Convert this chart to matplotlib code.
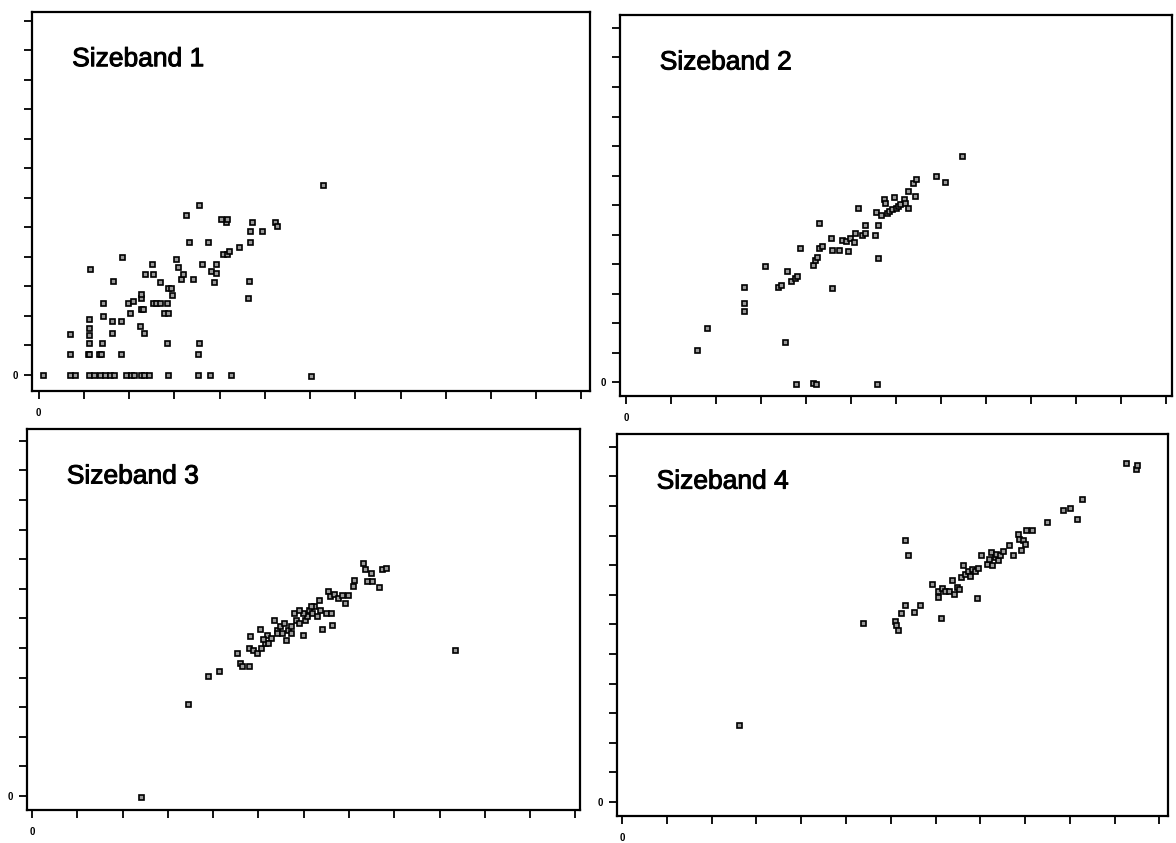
import matplotlib.pyplot as plt
import matplotlib.patheffects as pe

# --- DATA: one array per axis for each size band (axis units = tick steps) ---
x_band1 = [0.10, 0.69, 0.80, 1.12, 1.23, 1.35, 1.46, 1.58, 1.67, 1.92, 2.03, 2.11, 2.25, 2.33, 2.43,
           2.86, 3.53, 3.79, 4.25, 6.03,
           0.69, 1.08, 1.12, 1.33, 1.37, 1.82, 3.53,
           1.12, 1.40, 2.84, 3.55,
           0.69, 1.63, 2.24, 2.33, 1.12, 1.12, 1.12,
           1.63, 1.82, 1.42, 2.01, 2.77, 2.86, 2.25, 2.30,
           1.42, 1.97, 2.09, 2.25, 2.52, 2.60, 2.69, 2.84,
           2.25, 2.94, 2.86, 2.92, 2.69, 1.64,
           4.62, 4.65, 3.87, 3.41, 3.15,
           2.35, 2.53, 3.20, 3.81, 3.92,
           3.07, 2.50, 3.62, 3.92, 3.03, 1.84, 1.14,
           4.07, 4.17, 4.21, 4.42,
           3.32, 3.75, 4.68, 4.68, 4.93,
           4.13, 4.72, 5.23, 5.27, 4.04, 4.17,
           3.26, 3.55, 6.29]
y_band1 = [0.00, 0.00, 0.00, 0.00, 0.00, 0.00, 0.00, 0.00, 0.00, 0.00, 0.00, 0.00, 0.00, 0.00, 0.00,
           0.00, 0.00, 0.00, 0.00, -0.05,
           0.70, 0.70, 0.70, 0.70, 0.70, 0.70, 0.70,
           1.08, 1.08, 1.08, 1.08,
           1.39, 1.42, 1.65, 1.42, 1.36, 1.60, 1.90,
           1.84, 1.84, 1.99, 2.10, 2.10, 2.10, 2.22, 2.22,
           2.44, 2.44, 2.50, 2.60, 2.44, 2.44, 2.44, 2.44,
           2.73, 2.69, 2.95, 2.95, 3.13, 3.18,
           2.61, 3.18, 3.13, 3.24, 3.24,
           3.41, 3.41, 3.41, 3.52, 3.45,
           3.64, 3.75, 3.75, 3.75, 3.92, 4.00, 3.58,
           4.09, 4.09, 4.20, 4.32,
           4.49, 4.49, 4.49, 4.89, 4.89,
           5.17, 5.17, 5.17, 5.06, 5.28, 5.28,
           5.43, 5.74, 6.42]

x_band2 = [1.59, 1.81, 2.63, 2.63, 2.63, 3.10, 3.37, 3.44, 3.54, 3.58, 3.67, 3.75, 3.81, 3.86,
           3.77, 4.15, 4.22, 5.58, 4.16, 4.20, 4.24, 4.29, 4.35, 4.29, 4.56, 4.58, 4.58, 4.73,
           4.81, 4.90, 4.94, 4.98, 5.07, 5.08, 5.15, 5.24, 5.31, 5.32, 5.53, 5.59, 5.59, 5.56,
           5.66, 5.73, 5.76, 5.79, 5.85, 5.92, 5.96, 6.00, 6.04, 6.08, 6.17, 6.21, 6.27, 6.27,
           6.42, 6.38, 6.44, 6.89, 7.08, 7.47]
y_band2 = [1.08, 1.82, 3.22, 2.67, 2.42, 3.92, 3.24, 3.30, 1.36, 3.75, 3.41, 3.52, 3.60, 4.55,
           -0.06, -0.03, -0.06, -0.06, 3.98, 4.15, 4.24, 4.55, 4.60, 5.38, 4.89, 4.49, 3.18, 4.49,
           4.83, 4.77, 4.43, 4.89, 4.74, 5.06, 5.91, 5.00, 5.06, 5.32, 5.00, 5.32, 4.20, 5.76,
           5.68, 6.19, 6.08, 5.74, 5.80, 5.85, 6.28, 5.91, 5.97, 6.02, 6.22, 6.08, 6.48, 5.91,
           6.31, 6.76, 6.88, 6.99, 6.78, 7.65]

x_band3 = [2.40, 3.44, 3.88, 4.14, 4.52, 4.59, 4.63, 4.80, 4.80, 4.88, 4.82, 5.03, 4.97, 5.05,
           5.14, 5.18, 5.27, 5.35, 5.40, 5.48, 5.57, 5.61, 5.65, 5.73, 5.78, 5.82, 5.89, 5.99,
           6.03, 6.07, 6.12, 6.18, 6.23, 6.29, 6.33, 6.37, 6.41, 6.50, 6.54, 6.60, 6.63, 6.58,
           6.67, 6.75, 6.84, 6.91, 6.97, 7.09, 7.11, 7.31, 7.35, 7.39, 7.48, 7.50, 7.67, 7.73,
           7.82, 9.35, 5.22, 5.40, 5.52, 5.73, 5.99, 6.16, 5.10, 5.90]
y_band3 = [-0.02, 3.12, 4.06, 4.21, 4.83, 4.49, 4.38, 4.38, 5.00, 4.94, 5.42, 5.64, 4.83, 5.00,
           5.17, 5.45, 5.34, 5.94, 5.62, 5.73, 5.85, 5.28, 5.62, 5.73, 6.19, 5.96, 5.85, 5.45,
           5.96, 6.07, 6.30, 6.19, 6.41, 6.07, 6.64, 6.30, 5.64, 6.19, 6.92, 6.19, 5.79, 6.75,
           6.84, 6.69, 6.80, 6.52, 6.80, 7.09, 7.31, 7.88, 7.67, 7.26, 7.54, 7.26, 7.07, 7.67,
           7.71, 4.94, 5.17, 5.51, 5.51, 5.51, 6.19, 6.41, 5.30, 6.30]

x_band4 = [2.61, 5.39, 6.09, 6.11, 6.17, 6.23, 6.31, 6.31, 6.38, 6.52, 6.65, 6.93, 7.05, 7.05,
           7.13, 7.15, 7.22, 7.30, 7.37, 7.41, 7.47, 7.52, 7.57, 7.62, 7.66, 7.73, 7.77, 7.81,
           7.89, 7.94, 7.92, 8.02, 8.15, 8.19, 8.23, 8.27, 8.32, 8.36, 8.40, 8.44, 8.50, 8.65,
           8.72, 8.84, 8.86, 8.90, 8.95, 8.99, 9.03, 9.16, 9.48, 9.85, 10.00, 10.15, 10.27,
           11.26, 11.47, 11.50]
y_band4 = [2.60, 6.05, 6.13, 5.99, 5.81, 6.38, 6.67, 8.86, 8.33, 6.41, 6.67, 7.35, 6.94, 7.14,
           6.21, 7.23, 7.14, 7.14, 7.51, 7.03, 7.26, 7.20, 7.60, 7.99, 7.71, 7.82, 7.65, 7.88,
           7.82, 7.91, 6.88, 8.33, 8.05, 8.22, 8.44, 7.99, 8.27, 8.39, 8.18, 8.33, 8.48, 8.67,
           8.33, 9.06, 8.89, 8.50, 8.84, 8.72, 9.18, 9.20, 9.46, 9.85, 9.94, 9.57, 10.24,
           11.46, 11.26, 11.38]

band_labels = ["Sizeband 1", "Sizeband 2", "Sizeband 3", "Sizeband 4"]
tick_steps = list(range(13))

# panel boxes in pixels (left, right, top, bottom) and axis limits
W, H = 1176, 843
kotak = [(32, 590, 12, 391), (620, 1172, 15, 396), (27, 580, 429, 810), (617, 1168, 434, 816)]
batas_x = [(-0.15, 12.19), (-0.13, 12.13), (-0.11, 12.10), (-0.11, 12.19)]
batas_y = [(-0.55, 12.30), (-0.47, 12.44), (-0.47, 12.40), (-0.47, 12.43)]

data_x = [x_band1, x_band2, x_band3, x_band4]
data_y = [y_band1, y_band2, y_band3, y_band4]

plt.rcParams['font.family'] = ['Liberation Sans', 'DejaVu Sans']
fig = plt.figure(figsize=(W / 100, H / 100), dpi=100)
fig.patch.set_facecolor('white')

for i in range(4):
    kiri, kanan, atas, bawah = kotak[i]
    ax = fig.add_axes([kiri / W, 1 - bawah / H, (kanan - kiri) / W, (bawah - atas) / H])

    ax.plot(data_x[i], data_y[i], linestyle='none', marker='s', markersize=3.6,
            markerfacecolor='#9a9a9a', markeredgecolor='black', markeredgewidth=1.2)

    ax.set_xlim(*batas_x[i])
    ax.set_ylim(*batas_y[i])

    # only the zero tick gets a label
    label_tick = ["0"] + [""] * 12
    ax.set_xticks(tick_steps)
    ax.set_xticklabels(label_tick, fontsize=7, fontweight='bold')
    ax.set_yticks(tick_steps)
    ax.set_yticklabels(label_tick, fontsize=7, fontweight='bold')
    ax.tick_params(axis='both', direction='out', length=6, width=1.3, color='black')
    ax.tick_params(axis='x', pad=6)
    ax.tick_params(axis='y', pad=4)

    for sisi in ax.spines.values():
        sisi.set_linewidth(1.6)
        sisi.set_color('black')

    ax.text(0.072, 0.857, band_labels[i], transform=ax.transAxes, fontsize=19,
            ha='left', va='baseline', color='black',
            path_effects=[pe.withStroke(linewidth=0.7, foreground='black')])

fig.savefig('out.png', dpi=100)
